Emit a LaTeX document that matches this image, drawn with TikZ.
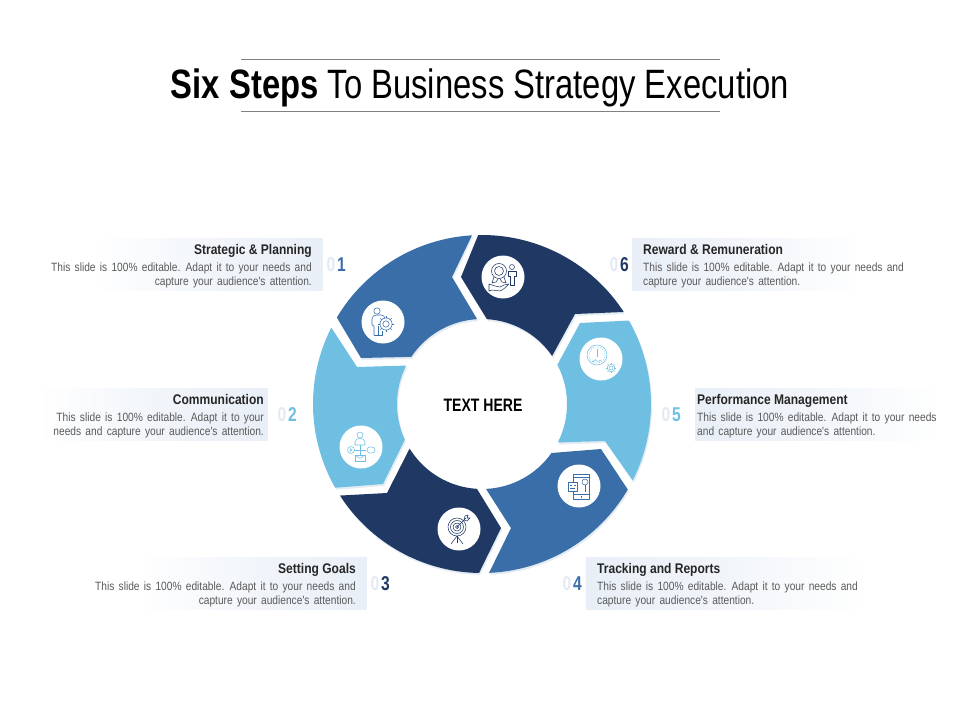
\documentclass[tikz,border=0pt]{standalone}
\usepackage{fontspec}
\usetikzlibrary{positioning,shadows}
\setmainfont{Liberation Sans}
\newfontfamily\narrowfont[FakeStretch=0.78]{Liberation Sans}
\newfontfamily\titlefont[FakeStretch=0.80]{Liberation Sans}
\newfontfamily\headfont[FakeStretch=0.86]{Liberation Sans}
\newfontfamily\copyfont[FakeStretch=0.85,WordSpace=1.5]{Liberation Sans}
\definecolor{ringdark}{HTML}{1F3864}
\definecolor{ringmid}{HTML}{3A6EA8}
\definecolor{ringlight}{HTML}{6FBFE3}
\definecolor{boxblue}{HTML}{E9EFF7}
\definecolor{zerotint}{HTML}{E3EAF3}
\definecolor{copygray}{HTML}{5A5A5A}
\tikzset{
  ringpart/.style={fill=#1,drop shadow={shadow xshift=1pt,shadow yshift=-2pt,opacity=.14,fill=ringmid}},
  boxl/.style={minimum width=#1,minimum height=52pt,inner sep=0pt,anchor=east,left color=white,right color=boxblue,middle color=boxblue!60},
  boxr/.style={minimum width=#1,minimum height=52pt,inner sep=0pt,anchor=west,right color=white,left color=boxblue,middle color=boxblue!60},
  headtext/.style={inner sep=0pt,text=black!85,font=\headfont\bfseries\fontsize{14}{15}\selectfont},
  bodytext/.style={inner sep=0pt,text=copygray,font=\copyfont\fontsize{12}{14}\selectfont},
  numzero/.style={inner sep=0pt,text=zerotint,font=\narrowfont\bfseries\fontsize{20}{20}\selectfont},
  numdigit/.style={inner sep=0pt,text=#1,font=\narrowfont\bfseries\fontsize{20}{20}\selectfont},
  iconcirc/.style={circle,fill=white,inner sep=0pt,minimum size=43pt},
  iconline/.style={draw=#1,line width=.55pt,fill=none,line join=round},
}
\newcommand{\gearicon}[3]{
  \draw (#1,#2) circle (#3*.76);
  \foreach \t in {0,45,...,315}
    \draw ([shift={(\t:#3*.76)}]#1,#2) -- ([shift={(\t:#3)}]#1,#2);
  \draw (#1,#2) circle (#3*.4);
}
\begin{document}
\begin{tikzpicture}[x=1pt,y=-1pt]
  \useasboundingbox (0,0) rectangle (960,720);
  \coordinate (ringc) at (482,404);

  % title
  \coordinate (ruletl) at (241,59);
  \coordinate (ruletr) at (720,59);
  \coordinate (rulebl) at (241,111);
  \coordinate (rulebr) at (720,111);
  \draw[black!50,line width=.8pt] (ruletl) -- (ruletr);
  \draw[black!50,line width=.8pt] (rulebl) -- (rulebr);
  \node[inner sep=0pt,font=\titlefont\fontsize{41}{42}\selectfont] (title) at (480,88)
    {\textbf{Six Steps} To Business Strategy Execution};

  % ring
  \foreach \col/\oa/\ob/\ptm/\ia/\ib/\ptn in {
    ringmid/-149.2/-93.4/{(452,277)}/-93.3/-146.3/{(361,358)},
    ringdark/-91.3/-33/{(575,314)}/-34.4/-86.7/{(461,277)},
    ringlight/-29.6/26.9/{(605,441)}/26.9/-27.5/{(580,323)},
    ringmid/30.4/87.6/{(511,528)}/87.3/35.2/{(601,449)},
    ringdark/91/147.2/{(387,493)}/148.4/93.4/{(501,528)},
    ringlight/150.3/206.9/{(357,367)}/206.9/155.2/{(383,484)}}
  {
    \path[ringpart=\col] ([shift={(\oa:169)}]ringc) arc[start angle=\oa,end angle=\ob,radius=169]
      -- \ptm -- ([shift={(\ia:85)}]ringc) arc[start angle=\ia,end angle=\ib,radius=85]
      -- \ptn -- cycle;
  }
  \node[inner sep=0pt,font=\narrowfont\bfseries\fontsize{18}{18}\selectfont] (centre) at (483,405) {TEXT HERE};

  % icons
  \node[iconcirc] (icona) at (383,322) {};
  \node[iconcirc] (iconf) at (503,277) {};
  \node[iconcirc] (icone) at (601,359) {};
  \node[iconcirc] (icond) at (579,486) {};
  \node[iconcirc] (iconc) at (459,529) {};
  \node[iconcirc] (iconb) at (361,447) {};

  \begin{scope}[shift={(383,322)},every path/.style={iconline=ringmid}]
    \draw (-6,-11) circle (3.2);
    \draw (-9,13) -- (-9,4) -- (-11,3) -- (-11,-3) .. controls (-11,-6) and (-9,-7) .. (-6,-7)
      -- (-2,-7) .. controls (0,-7) and (1,-6) .. (2,-4);
    \draw (-9,13) -- (-1,13) -- (-1,9);
    \draw (-5,13) -- (-5,4);
    \gearicon{3}{2}{8}
  \end{scope}

  \begin{scope}[shift={(503,277)},every path/.style={iconline=ringdark}]
    \draw (-4,-6) circle (7.5);
    \draw (-4,-6) circle (4.5);
    \draw (-9,0) -- (-11,6) -- (-7,5) -- (-5,2);
    \draw (1,0) -- (3,6) -- (-1,5) -- (-3,2);
    \draw (-14,7) -- (-14,14) -- (-11,13) -- (-3,14) .. controls (0,13) and (4,9) .. (6,7) -- (1,8) -- (-3,10) -- (-8,9) -- (-11,8) -- cycle;
    \draw (9,-10) circle (2.5);
    \draw (7,8) -- (7,-1) -- (5,-1) -- (5,-6) -- (13,-6) -- (13,-1) -- (11,-1) -- (11,8) -- cycle;
  \end{scope}

  \begin{scope}[shift={(601,359)},every path/.style={iconline=ringlight}]
    \draw (-4,-4) circle (10);
    \draw[dashed,dash pattern=on .8pt off 1.6pt] (-4,-4) circle (8);
    \draw (-4,-10) -- (-4,-2);
    \draw (-8,3) .. controls (-6,0) and (-5,0) .. (-4,2) .. controls (-3,3) and (-2,2) .. (0,1);
    \gearicon{10}{9}{5}
  \end{scope}

  \begin{scope}[shift={(579,486)},every path/.style={iconline=ringmid}]
    \draw (-6,-12) rectangle (10,13);
    \draw (-6,-9) -- (10,-9);
    \draw (-6,8) -- (10,8);
    \draw (2,9.5) -- (2,11.5);
    \draw (6,-4) circle (3);
    \draw (6,-1) -- (6,6);
    \path[fill=white,draw=none] (-11,-4) rectangle (-2,5);
    \draw (-11,-4) rectangle (-2,5);
    \draw (-9,-1) -- (-7,-1);
    \draw (-5,-1) -- (-3,-1);
    \draw (-9,2) -- (-4,2);
  \end{scope}

  \begin{scope}[shift={(459,529)},every path/.style={iconline=ringdark}]
    \draw (-2,-2) circle (9);
    \draw (-2,-2) circle (6.5);
    \draw (-2,-2) circle (4);
    \draw (-2,-2) circle (1.6);
    \draw (-2,-2) -- (7,-11);
    \draw (5,-9) -- (6,-13) -- (9,-14) -- (8,-11) -- (11,-11) -- (8,-8) -- cycle;
    \draw (-2,7) -- (-8,15);
    \draw (-2,7) -- (4,15);
    \draw (-2,7) -- (-2,14);
  \end{scope}

  \begin{scope}[shift={(361,447)},every path/.style={iconline=ringlight}]
    \draw (-1,-12) circle (3);
    \draw (-6,-2) -- (-6,-5) .. controls (-6,-8) and (-3,-8.5) .. (-1,-8.5) .. controls (1,-8.5) and (4,-8) .. (4,-5) -- (4,-2) -- cycle;
    \draw (-7,3) -- (5,3);
    \draw (-1,-2) -- (-1,8);
    \draw (-10,3) circle (3.5);
    \draw (-10.8,1.5) -- (-8.8,3) -- (-10.8,4.5) -- cycle;
    \draw (10,3) ellipse (4.2 and 3.2);
    \draw (-6,8) rectangle (4,14);
    \draw (-6,8) -- (-1,11.5) -- (4,8);
  \end{scope}

  % step 1
  \node[boxl=230pt] (boxa) at (323,264) {};
  \node[numzero] (zeroa) at (331,264.5) {0};
  \node[numdigit=ringmid,right=1.5pt of zeroa] (digita) {1};
  \node[headtext,anchor=base east] (heada) at (312,254.5) {Strategic \& Planning};
  \node[bodytext,align=right,anchor=north east] (bodya) at (312,262.5) {This slide is 100\% editable. Adapt it to your needs and\\capture your audience's attention.};

  % step 2
  \node[boxl=230pt] (boxb) at (268,414) {};
  \node[numzero] (zerob) at (282,414.5) {0};
  \node[numdigit=ringlight,right=1.5pt of zerob] (digitb) {2};
  \node[headtext,anchor=base east] (headb) at (264,404.5) {Communication};
  \node[bodytext,align=right,anchor=north east] (bodyb) at (264,412.5) {This slide is 100\% editable. Adapt it to your\\needs and capture your audience's attention.};

  % step 3
  \node[boxl=230pt] (boxc) at (367,583) {};
  \node[numzero] (zeroc) at (375,583.5) {0};
  \node[numdigit=ringdark,right=1.5pt of zeroc] (digitc) {3};
  \node[headtext,anchor=base east] (headc) at (356,573.5) {Setting Goals};
  \node[bodytext,align=right,anchor=north east] (bodyc) at (356,581.5) {This slide is 100\% editable. Adapt it to your needs and\\capture your audience's attention.};

  % step 4
  \node[boxr=280pt] (boxd) at (586,583) {};
  \node[numzero] (zerod) at (567,583.5) {0};
  \node[numdigit=ringmid,right=1.5pt of zerod] (digitd) {4};
  \node[headtext,anchor=base west] (headd) at (597,573.5) {Tracking and Reports};
  \node[bodytext,align=left,anchor=north west] (bodyd) at (597,581.5) {This slide is 100\% editable. Adapt it to your needs and\\capture your audience's attention.};

  % step 5
  \node[boxr=245pt] (boxe) at (695,414) {};
  \node[numzero] (zeroe) at (666,414.5) {0};
  \node[numdigit=ringlight,right=1.5pt of zeroe] (digite) {5};
  \node[headtext,anchor=base west] (heade) at (697,404.5) {Performance Management};
  \node[bodytext,align=left,anchor=north west] (bodye) at (697,412.5) {This slide is 100\% editable. Adapt it to your needs\\and capture your audience's attention.};

  % step 6
  \node[boxr=230pt] (boxf) at (632,264) {};
  \node[numzero] (zerof) at (614,264.5) {0};
  \node[numdigit=ringdark,right=1.5pt of zerof] (digitf) {6};
  \node[headtext,anchor=base west] (headf) at (643,254.5) {Reward \& Remuneration};
  \node[bodytext,align=left,anchor=north west] (bodyf) at (643,262.5) {This slide is 100\% editable. Adapt it to your needs and\\capture your audience's attention.};
\end{tikzpicture}
\end{document}
